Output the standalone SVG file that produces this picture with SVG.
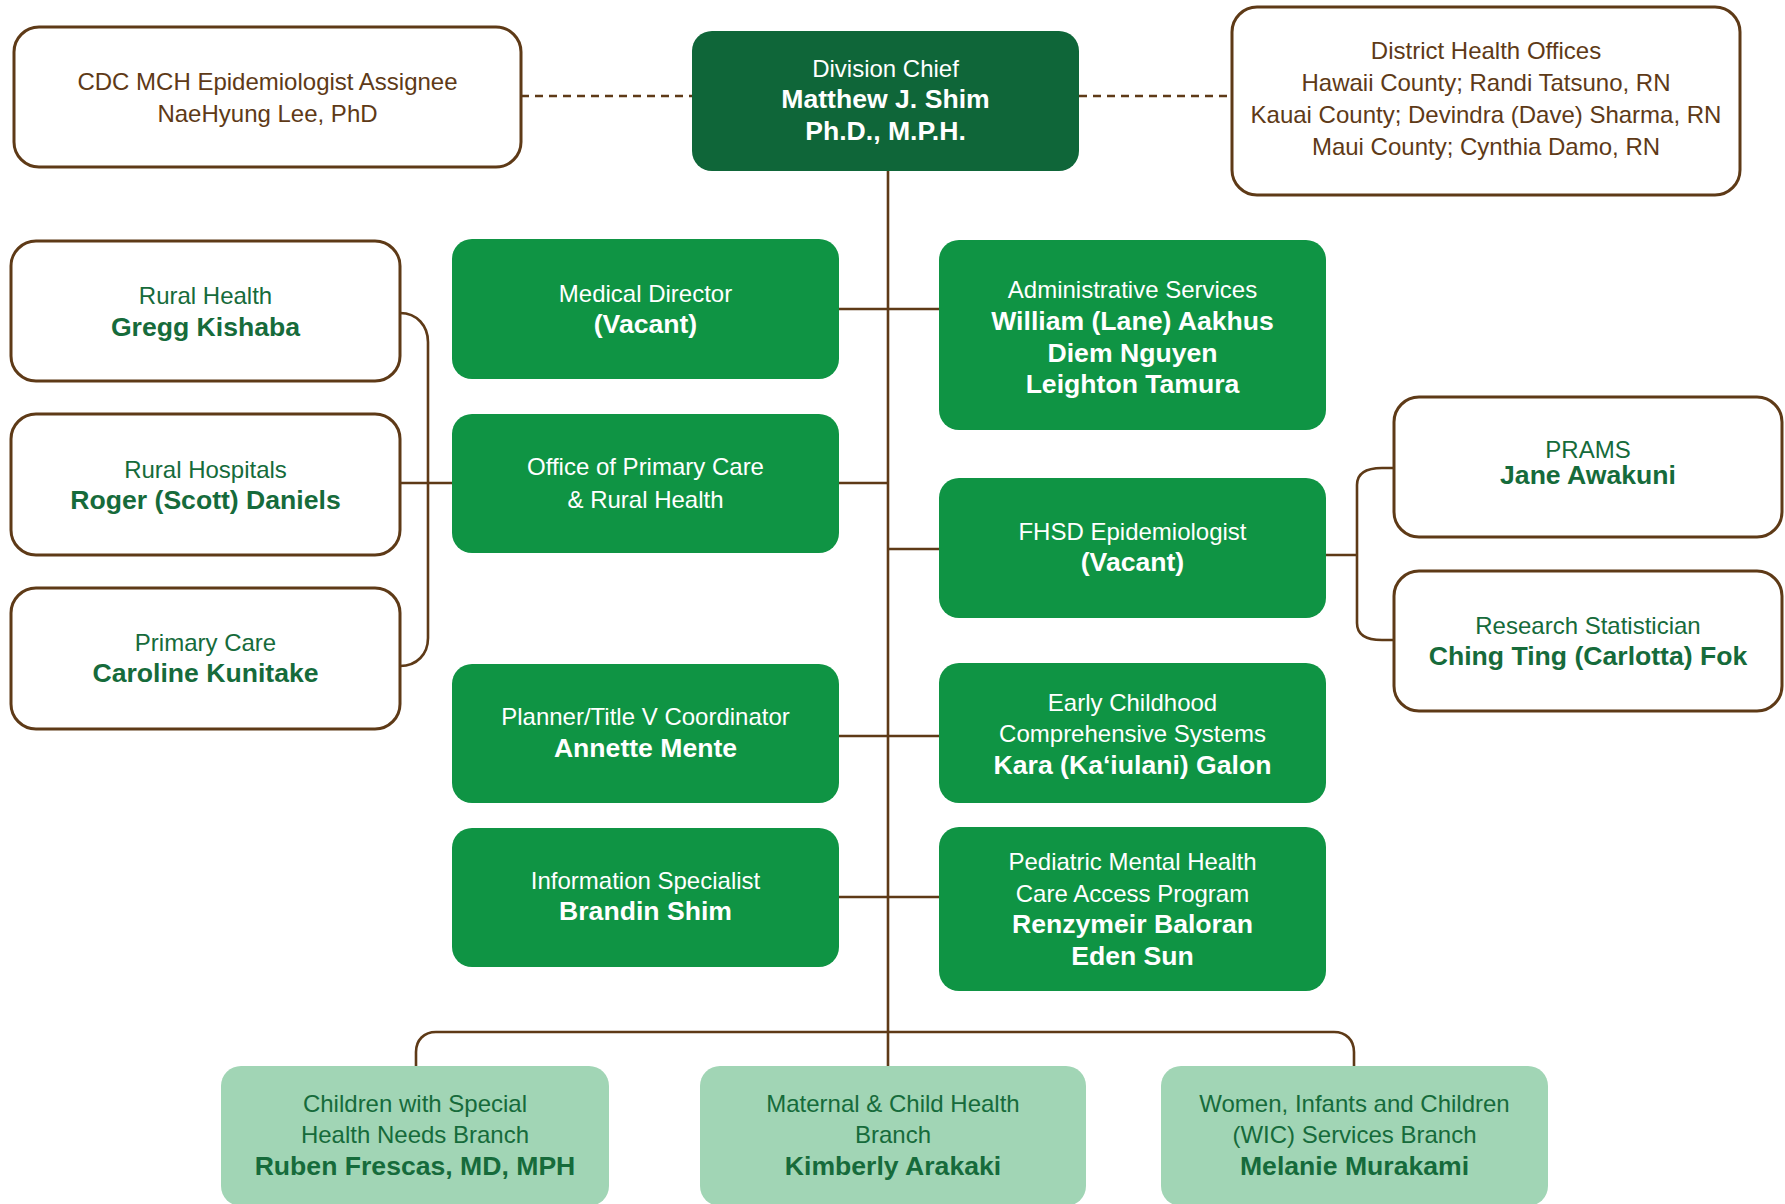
<svg xmlns="http://www.w3.org/2000/svg" width="1785" height="1204" viewBox="0 0 1785 1204">
<style>
text{font-family:"Liberation Sans",Arial,sans-serif;text-anchor:middle;font-size:24px;transform:translate(0px,1.5px)}
.b{font-weight:bold;font-size:26.6px}
.wb{fill:#fff;stroke:#5E3A17;stroke-width:3}
.dk{fill:#0F6639}
.gr{fill:#0F9444}
.lt{fill:#A1D5B5}
.tw{fill:#fff}
.tg{fill:#166B3B}
.tb{fill:#5E3A17}
.ln{fill:none;stroke:#5E3A17;stroke-width:2.6}
</style>
<g id="connectors">
<path class="ln" d="M888,171 V1066"/>
<path class="ln" d="M521,96 H692 M1079,96 H1232" stroke-dasharray="8 6"/>
<path class="ln" d="M839,309 H939 M839,483 H888 M888,549 H939 M839,736 H939 M839,897 H939"/>
<path class="ln" d="M400,313 C417,313 428,326 428,342 V638 C428,654 417,666 400,666 M400,483 H452"/>
<path class="ln" d="M1326,555 H1357 M1394,468 H1382 C1367,468 1357,473 1357,485 V623 C1357,635 1367,640 1382,640 H1394"/>
<path class="ln" d="M416,1066 V1052 C416,1040 424,1032 436,1032 H1334 C1346,1032 1354,1040 1354,1052 V1066"/>
</g>
<g id="cdc"><rect class="wb" x="14" y="27" width="507" height="140" rx="25"/>
<text class="tb" x="267.5" y="88.3">CDC MCH Epidemiologist Assignee</text>
<text class="tb" x="267.5" y="120.7">NaeHyung Lee, PhD</text></g>
<g id="chief"><rect class="dk" x="692" y="31" width="387" height="140" rx="20"/>
<text class="tw" x="885.5" y="75">Division Chief</text>
<text class="tw b" x="885.5" y="106.7">Matthew J. Shim</text>
<text class="tw b" x="885.5" y="138.3">Ph.D., M.P.H.</text></g>
<g id="district"><rect class="wb" x="1232" y="7" width="508" height="188" rx="25"/>
<text class="tb" x="1486" y="57.3">District Health Offices</text>
<text class="tb" x="1486" y="89.3">Hawaii County; Randi Tatsuno, RN</text>
<text class="tb" x="1486" y="121.7">Kauai County; Devindra (Dave) Sharma, RN</text>
<text class="tb" x="1486" y="153.3">Maui County; Cynthia Damo, RN</text></g>
<g id="rural-health"><rect class="wb" x="11" y="241" width="389" height="140" rx="25"/>
<text class="tg" x="205.5" y="302.7">Rural Health</text>
<text class="tg b" x="205.5" y="334.3">Gregg Kishaba</text></g>
<g id="rural-hospitals"><rect class="wb" x="11" y="414" width="389" height="141" rx="25"/>
<text class="tg" x="205.5" y="476">Rural Hospitals</text>
<text class="tg b" x="205.5" y="507">Roger (Scott) Daniels</text></g>
<g id="primary-care"><rect class="wb" x="11" y="588" width="389" height="141" rx="25"/>
<text class="tg" x="205.5" y="649.3">Primary Care</text>
<text class="tg b" x="205.5" y="680.7">Caroline Kunitake</text></g>
<g id="medical-director"><rect class="gr" x="452" y="239" width="387" height="140" rx="20"/>
<text class="tw" x="645.5" y="300">Medical Director</text>
<text class="tw b" x="645.5" y="331.7">(Vacant)</text></g>
<g id="office-primary-care"><rect class="gr" x="452" y="414" width="387" height="139" rx="20"/>
<text class="tw" x="645.5" y="473.3">Office of Primary Care</text>
<text class="tw" x="645.5" y="506">&amp; Rural Health</text></g>
<g id="planner"><rect class="gr" x="452" y="664" width="387" height="139" rx="20"/>
<text class="tw" x="645.5" y="723.3">Planner/Title V Coordinator</text>
<text class="tw b" x="645.5" y="755">Annette Mente</text></g>
<g id="info-specialist"><rect class="gr" x="452" y="828" width="387" height="139" rx="20"/>
<text class="tw" x="645.5" y="887.3">Information Specialist</text>
<text class="tw b" x="645.5" y="918.3">Brandin Shim</text></g>
<g id="admin-services"><rect class="gr" x="939" y="240" width="387" height="190" rx="20"/>
<text class="tw" x="1132.5" y="296.7">Administrative Services</text>
<text class="tw b" x="1132.5" y="328.3">William (Lane) Aakhus</text>
<text class="tw b" x="1132.5" y="360">Diem Nguyen</text>
<text class="tw b" x="1132.5" y="391.7">Leighton Tamura</text></g>
<g id="fhsd-epi"><rect class="gr" x="939" y="478" width="387" height="140" rx="20"/>
<text class="tw" x="1132.5" y="538.3">FHSD Epidemiologist</text>
<text class="tw b" x="1132.5" y="569.3">(Vacant)</text></g>
<g id="early-childhood"><rect class="gr" x="939" y="663" width="387" height="140" rx="20"/>
<text class="tw" x="1132.5" y="709.3">Early Childhood</text>
<text class="tw" x="1132.5" y="740.7">Comprehensive Systems</text>
<text class="tw b" x="1132.5" y="772.7">Kara (Ka‘iulani) Galon</text></g>
<g id="pediatric-mh"><rect class="gr" x="939" y="827" width="387" height="164" rx="20"/>
<text class="tw" x="1132.5" y="868.3">Pediatric Mental Health</text>
<text class="tw" x="1132.5" y="900">Care Access Program</text>
<text class="tw b" x="1132.5" y="931.7">Renzymeir Baloran</text>
<text class="tw b" x="1132.5" y="963.3">Eden Sun</text></g>
<g id="prams"><rect class="wb" x="1394" y="397" width="388" height="140" rx="25"/>
<text class="tg" x="1588" y="456.7">PRAMS</text>
<text class="tg b" x="1588" y="482.7">Jane Awakuni</text></g>
<g id="research-stat"><rect class="wb" x="1394" y="571" width="388" height="140" rx="25"/>
<text class="tg" x="1588" y="632.7">Research Statistician</text>
<text class="tg b" x="1588" y="663.3">Ching Ting (Carlotta) Fok</text></g>
<g id="cshn"><rect class="lt" x="221" y="1066" width="388" height="140" rx="20"/>
<text class="tg" x="415" y="1110">Children with Special</text>
<text class="tg" x="415" y="1141.7">Health Needs Branch</text>
<text class="tg b" x="415" y="1173.3">Ruben Frescas, MD, MPH</text></g>
<g id="mch"><rect class="lt" x="700" y="1066" width="386" height="140" rx="20"/>
<text class="tg" x="893" y="1110">Maternal &amp; Child Health</text>
<text class="tg" x="893" y="1141.7">Branch</text>
<text class="tg b" x="893" y="1173.3">Kimberly Arakaki</text></g>
<g id="wic"><rect class="lt" x="1161" y="1066" width="387" height="140" rx="20"/>
<text class="tg" x="1354.5" y="1110">Women, Infants and Children</text>
<text class="tg" x="1354.5" y="1141.7">(WIC) Services Branch</text>
<text class="tg b" x="1354.5" y="1173.3">Melanie Murakami</text></g>
</svg>
